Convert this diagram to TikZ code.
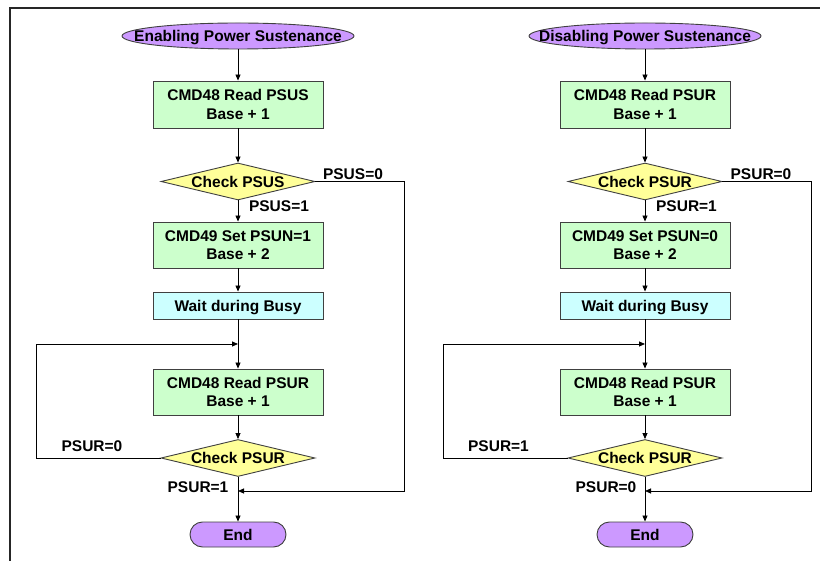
\documentclass[tikz,border=0pt]{standalone}
\usepackage{fontspec}
\setmainfont{Liberation Sans}
\usetikzlibrary{arrows.meta,shapes.geometric}
\definecolor{startfill}{RGB}{204,153,255}
\definecolor{procfill}{RGB}{204,255,204}
\definecolor{waitfill}{RGB}{204,255,255}
\definecolor{decfill}{RGB}{255,255,153}
\definecolor{edgecol}{RGB}{64,64,64}
\begin{document}
\begin{tikzpicture}[x=1pt,y=-1pt,
  every node/.style={font=\fontsize{15.5}{18.3}\selectfont\bfseries, inner sep=0pt},
  term/.style={ellipse, draw=edgecol, fill=startfill, line width=0.9pt, minimum width=232pt, minimum height=26pt, text height=11.1pt, text depth=0pt},
  endbox/.style={rectangle, rounded corners=12.5pt, draw=edgecol, fill=startfill, line width=0.9pt, minimum width=96pt, minimum height=25pt, text height=11.1pt, text depth=0pt},
  proc/.style={rectangle, draw=edgecol, fill=procfill, line width=0.9pt, minimum width=170pt, minimum height=46pt, align=center},
  waitbox/.style={rectangle, draw=edgecol, fill=waitfill, line width=0.9pt, minimum width=170pt, minimum height=27pt, text height=11.1pt, text depth=0pt},
  dec/.style={diamond, draw=edgecol, fill=decfill, line width=0.9pt, minimum width=154pt, minimum height=37pt, text height=11.1pt, text depth=0pt},
  lbl/.style={text height=11.1pt, text depth=0pt},
  arr/.style={-{Triangle[length=6pt,width=5pt]}, line width=0.8pt},
  frameline/.style={line width=2pt, draw=black!85}
]
\useasboundingbox (0,0) rectangle (820,561);
\draw[frameline] (820,8) -- (10,8) -- (10,561);

% left flow
\node[term] (s1) at (238,36) {\makebox[0pt]{Enabling Power Sustenance}};
\node[proc, minimum height=47pt] (a1) at (238,104.5) {CMD48 Read PSUS\\Base + 1};
\node[dec] (c1) at (238,181.5) {\makebox[0pt]{Check PSUS}};
\node[proc] (a2) at (238,245) {CMD49 Set PSUN=1\\Base + 2};
\node[waitbox] (w1) at (238,305.5) {Wait during Busy};
\node[proc] (a3) at (238,392) {CMD48 Read PSUR\\Base + 1};
\node[dec] (c2) at (238,458) {\makebox[0pt]{Check PSUR}};
\node[endbox] (e1) at (238,534.5) {End};
\coordinate (j1) at (238,344);
\coordinate (j2) at (238,491);
\coordinate (lp1) at (36,458);
\coordinate (rp1) at (404,181.5);

\draw[arr] (s1) -- (a1);
\draw[arr] (a1) -- (c1);
\draw[arr] (c1) -- (a2);
\draw[arr] (a2) -- (w1);
\draw[arr] (w1) -- (a3);
\draw[arr] (a3) -- (c2);
\draw[arr] (c2) -- (e1);
\draw[arr] (c2.west) -- (lp1) |- (j1);
\draw[arr] (c1.east) -- (rp1) |- (j2);

\node[lbl] (l1) at (353,173.5) {PSUS=0};
\node[lbl] (l2) at (279,206) {PSUS=1};
\node[lbl] (l3) at (92,446) {PSUR=0};
\node[lbl] (l4) at (198,487) {PSUR=1};

% right flow
\node[term] (s2) at (645,36) {\makebox[0pt]{Disabling Power Sustenance}};
\node[proc, minimum height=47pt] (b1) at (645,104.5) {CMD48 Read PSUR\\Base + 1};
\node[dec] (d1) at (645,181.5) {\makebox[0pt]{Check PSUR}};
\node[proc] (b2) at (645,245) {CMD49 Set PSUN=0\\Base + 2};
\node[waitbox] (w2) at (645,305.5) {Wait during Busy};
\node[proc] (b3) at (645,392) {CMD48 Read PSUR\\Base + 1};
\node[dec] (d2) at (645,458) {\makebox[0pt]{Check PSUR}};
\node[endbox] (e2) at (645,534.5) {End};
\coordinate (j3) at (645,344);
\coordinate (j4) at (645,491);
\coordinate (lp2) at (443,458);
\coordinate (rp2) at (811,181.5);

\draw[arr] (s2) -- (b1);
\draw[arr] (b1) -- (d1);
\draw[arr] (d1) -- (b2);
\draw[arr] (b2) -- (w2);
\draw[arr] (w2) -- (b3);
\draw[arr] (b3) -- (d2);
\draw[arr] (d2) -- (e2);
\draw[arr] (d2.west) -- (lp2) |- (j3);
\draw[arr] (d1.east) -- (rp2) |- (j4);

\node[lbl] (m1) at (761,173.5) {PSUR=0};
\node[lbl] (m2) at (686.5,206) {PSUR=1};
\node[lbl] (m3) at (498.5,446) {PSUR=1};
\node[lbl] (m4) at (606,487) {PSUR=0};
\end{tikzpicture}
\end{document}
